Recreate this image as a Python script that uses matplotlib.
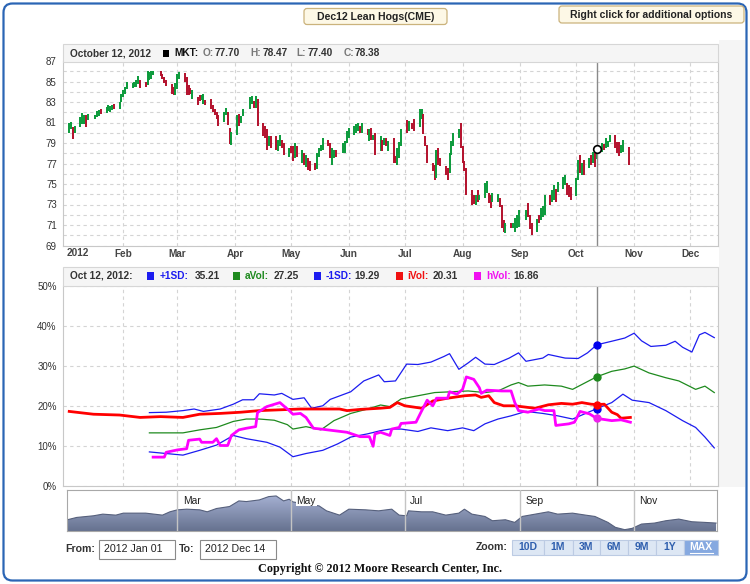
import datetime as dt
import numpy as np
import pandas as pd
import matplotlib
matplotlib.use('Agg')
import matplotlib.pyplot as plt
import matplotlib.dates as mdates
from matplotlib.patches import FancyBboxPatch, Rectangle, Polygon
from matplotlib.colors import LinearSegmentedColormap

plt.rcParams['font.family'] = ['Liberation Sans', 'DejaVu Sans']

W, H = 750, 584
JAN1 = mdates.date2num(dt.datetime(2012, 1, 1))

# ---------------- data ----------------
# daily bars, business days 2012-01-03 .. 2012-10-29 without exchange holidays
bar_holidays = ['2012-01-16', '2012-02-20', '2012-04-06', '2012-05-28', '2012-07-04', '2012-09-03']
bar_high = [
    80.93, 81.03, 80.54, 80.64, 81.52, 81.95, 81.69, 81.69, 81.85, 81.69, 82.08, 82.18, 82.27, 82.50, 82.67, 82.57, 82.73, 82.83, 83.00, 83.80,  # jan
    84.14, 84.46, 84.95, 84.90, 84.95, 85.10, 85.54, 85.10, 84.95, 86.00, 85.93, 86.00, 86.00, 86.00, 85.77, 85.44, 85.10, 84.80, 84.46, 84.90,  # feb
    85.77, 85.93, 85.87, 85.44, 84.63, 84.37, 84.14, 83.48, 83.65, 83.65, 83.80, 83.16, 83.25, 82.73, 82.34, 82.00, 81.69, 82.00, 82.45, 82.03, 80.50, 80.05,  # mar
    81.70, 81.80, 81.63, 82.36, 83.44, 83.60, 83.11, 83.60, 83.28, 80.97, 80.64, 80.32, 79.66, 79.66, 79.66, 79.33, 79.82, 79.33, 79.00, 78.51,  # apr
    78.67, 78.74, 79.00, 78.67, 78.34, 78.01, 77.85, 77.52, 77.20, 77.03, 78.01, 78.51, 78.84, 79.49, 79.33, 79.00, 78.51, 78.34, 78.34, 79.00, 79.16, 80.15,  # may
    80.48, 80.64, 80.81, 80.97, 80.64, 80.97, 80.32, 80.32, 80.48, 79.82, 79.99, 79.66, 79.33, 79.49, 79.49, 79.16, 79.50, 77.70, 78.50, 79.10, 80.40,  # jun
    81.24, 81.14, 80.97, 81.30, 82.35, 82.28, 81.79, 79.67, 78.85, 77.05, 76.89, 78.36, 78.52, 77.54, 76.73, 76.56, 78.03, 79.18, 79.99, 80.39, 80.91,  # jul
    78.69, 77.22, 76.56, 74.44, 73.95, 73.95, 74.44, 73.95, 75.09, 75.25, 74.11, 73.95, 74.11, 74.05, 73.62, 72.97, 71.50, 71.24, 71.24, 71.24, 71.66, 71.99, 72.48,  # aug
    72.50, 73.10, 71.97, 71.15, 71.63, 71.97, 72.62, 72.85, 73.92, 73.90, 74.40, 74.90, 74.56, 75.20, 75.70, 75.87, 75.05, 74.90, 74.70,  # sep
    75.54, 77.34, 77.83, 77.01, 77.34, 77.50, 77.83, 78.16, 77.99, 78.47, 78.97, 78.91, 79.46, 79.24, 79.79, 79.79, 79.14, 79.14, 78.81, 79.30, 78.65,  # oct
]
bar_low = [
    79.99, 80.38, 79.40, 79.99, 80.54, 80.87, 80.87, 80.54, 81.20, 81.30, 81.52, 81.62, 81.85, 81.95, 82.08, 82.00, 82.18, 82.34, 82.27, 83.00,
    83.48, 83.80, 84.30, 84.40, 84.46, 84.46, 84.80, 84.37, 84.46, 84.63, 85.10, 85.28, 85.60, 85.54, 85.28, 84.90, 84.56, 83.80, 83.70, 83.65,
    84.30, 85.28, 84.95, 83.70, 83.65, 83.80, 83.32, 82.67, 83.06, 83.16, 82.83, 82.67, 82.34, 82.00, 81.69, 81.36, 80.70, 81.03, 81.70, 80.80, 78.90, 78.84,
    79.82, 80.64, 80.97, 81.63, 82.29, 82.78, 82.45, 82.45, 80.64, 79.66, 79.49, 78.34, 78.67, 78.51, 78.34, 78.18, 78.67, 78.51, 77.85, 77.68,
    78.01, 77.29, 77.52, 77.68, 77.03, 76.86, 76.70, 76.37, 76.30, 76.37, 76.43, 77.68, 78.18, 78.34, 78.67, 77.52, 76.86, 77.52, 77.68, 78.01, 78.01, 79.00,
    79.49, 79.82, 79.99, 80.15, 79.99, 79.99, 79.82, 79.16, 79.33, 79.33, 77.85, 78.18, 78.18, 78.84, 78.67, 78.18, 77.05, 77.05, 76.90, 77.50, 78.70,
    79.99, 80.16, 80.32, 80.16, 80.58, 81.30, 79.83, 78.69, 77.05, 76.24, 75.42, 75.58, 76.89, 76.73, 75.91, 75.42, 76.07, 77.87, 78.69, 79.50, 78.52,
    77.05, 76.24, 73.95, 72.97, 73.07, 72.97, 73.29, 73.46, 73.62, 74.11, 73.13, 72.64, 73.29, 73.20, 72.80, 70.68, 70.35, 70.25, 70.68, 70.68, 70.35, 70.68, 70.84,
    71.52, 71.80, 70.60, 70.00, 70.33, 71.15, 71.46, 71.80, 71.95, 72.93, 73.25, 73.40, 73.25, 74.24, 74.56, 74.90, 73.90, 73.75, 73.40,
    73.81, 75.38, 76.03, 75.87, 75.87, 76.52, 76.85, 77.01, 76.69, 77.40, 78.16, 78.32, 78.48, 78.65, 79.14, 78.48, 77.99, 77.73, 77.99, 78.16, 76.85,
]
# G = closed up, R = closed down
bar_dir = ("GGRGGGGRGGGGRGGGGRGG" "GGGGGGGRRGGGGRRRRRRG" "GGRRRRGRRGGRRRRRRGGRRG"
           "GRGGGGRGRRRRGRRGGRRG" "RRGRGRGRRRGGGGRRGGRGGG" "GGGGRGRGRGRGRGRGRRGGG"
           "RGRRGGRRRRRGRRRRGGGGR" "RRRRRGRGGGRRGGRRRGRGGGG" "GRRRGRGGGRGGRGGGRRR"
           "GGRGRGRGRGGRGGGRRRGGR")

sel_date = dt.datetime(2012, 10, 12)
sel_ohlc = ['77.70', '78.47', '77.40', '78.38']

# volatility lines, x = days after Jan 1 2012, y = percent
ivol_day = [2, 15, 29, 40, 51, 63, 72, 83, 94, 104, 115, 126, 137, 147, 151, 158, 169, 174, 178, 182,
            191, 197, 205, 214, 220, 223, 227, 230, 235, 241, 248, 252, 259, 266, 272, 277, 282, 285, 289, 293,
            296, 298, 303]
ivol_val = [18.6, 17.9, 17.7, 17.1, 17.3, 17.1, 17.9, 18.1, 18.4, 18.8, 19.0, 19.2, 19.2, 19.2, 18.8, 19.1, 19.4, 19.6, 20.8, 20.0,
            19.4, 21.2, 21.9, 22.5, 22.7, 22.1, 22.5, 20.8, 20.0, 20.0, 19.6, 19.4, 20.25, 20.6, 20.4, 20.8, 20.4, 20.31, 20.4, 18.4,
            17.8, 16.9, 17.1]
up_day = [45, 54, 63, 69, 74, 83, 90, 95, 101, 104, 112, 116, 122, 128, 132, 138, 142, 153, 160, 168,
          171, 177, 183, 189, 196, 203, 206, 211, 216, 220, 225, 230, 238, 243, 247, 256, 259, 268, 275, 280,
          285, 293, 300, 305, 309, 314, 322, 327, 331, 336, 340, 343, 348]
up_val = [18.3, 18.4, 18.8, 19.2, 18.6, 19.2, 20.4, 21.5, 21.5, 23.0, 22.7, 23.1, 21.6, 22.0, 19.4, 20.0, 21.6, 23.5, 26.2, 27.7,
          26.0, 26.2, 30.4, 30.3, 30.9, 32.3, 33.0, 29.1, 30.7, 32.1, 30.4, 30.3, 31.9, 33.2, 31.1, 31.9, 32.8, 31.9, 31.8, 33.2,
          35.21, 36.1, 36.9, 38.1, 36.2, 34.8, 35.1, 36.1, 34.6, 33.4, 37.7, 38.3, 37.0]
avol_day = [45, 63, 72, 81, 90, 97, 104, 112, 119, 122, 129, 137, 144, 153, 162, 169, 174, 180, 189, 198,
            207, 216, 225, 232, 239, 243, 248, 257, 266, 272, 279, 285, 293, 300, 305, 313, 322, 329, 338, 343, 348]
avol_val = [13.25, 13.25, 14.0, 14.6, 16.1, 16.7, 16.7, 16.4, 15.3, 14.2, 14.8, 14.0, 16.3, 18.1, 19.2, 20.2, 19.8, 21.7, 22.5, 23.3,
            23.5, 23.7, 23.3, 23.7, 25.2, 25.8, 24.9, 25.2, 24.9, 24.1, 25.8, 27.25, 28.6, 29.2, 29.9, 28.2, 27.0, 26.2, 24.1, 24.9, 23.3]
dn_day = [45, 54, 63, 72, 81, 90, 97, 108, 115, 122, 129, 138, 146, 153, 162, 169, 174, 180, 189, 196,
          205, 213, 219, 225, 232, 239, 247, 256, 264, 272, 279, 285, 293, 299, 304, 313, 322, 331, 338, 343, 348]
dn_val = [8.5, 8.1, 7.7, 8.9, 10.2, 12.6, 11.8, 10.9, 9.7, 7.3, 8.1, 8.9, 10.5, 12.2, 13.0, 13.8, 14.2, 14.2, 13.6, 14.5,
          13.8, 14.5, 13.8, 15.5, 16.7, 17.5, 18.6, 18.1, 17.5, 16.7, 18.1, 19.29, 20.8, 22.9, 21.4, 20.8, 18.8, 16.3, 14.6, 12.2, 9.5]
hvol_day = [47, 53, 54, 60, 65, 66, 72, 73, 79, 81, 83, 87, 89, 93, 97, 102, 103, 108, 115, 120,
            122, 126, 129, 133, 137, 144, 151, 158, 163, 165, 166, 169, 174, 175, 179, 180, 188, 191, 194, 197,
            199, 205, 206, 210, 213, 215, 219, 222, 223, 226, 234, 239, 241, 243, 248, 254, 257, 262, 263, 270,
            273, 276, 281, 285, 293, 298, 303]
hvol_val = [7.2, 7.2, 8.4, 9.0, 9.3, 11.4, 11.7, 10.9, 10.9, 11.8, 10.1, 10.1, 12.6, 14.0, 14.4, 14.8, 18.3, 19.8, 20.8, 18.8,
            17.9, 18.1, 17.1, 14.4, 14.2, 13.8, 13.4, 12.3, 12.3, 9.9, 13.0, 13.4, 12.6, 14.2, 14.6, 15.6, 15.9, 18.7, 21.4, 20.0,
            21.9, 21.9, 23.5, 22.9, 24.1, 27.2, 26.6, 24.5, 23.1, 23.9, 23.7, 23.7, 20.8, 18.8, 18.4, 19.2, 18.8, 18.8, 15.1, 15.5,
            15.9, 18.6, 18.0, 16.86, 16.3, 16.5, 15.9]

legend_names = ['+1SD:', 'aVol:', '-1SD:', 'iVol:', 'hVol:']
legend_vals = [35.21, 27.25, 19.29, 20.31, 16.86]
legend_cols = ['#1c1cf0', '#1e8a1e', '#1c1cf0', '#f01010', '#f010f0']

# navigator strip (unitless level)
nav_day = [1, 6, 15, 20, 27, 31, 43, 52, 56, 60, 65, 72, 76, 81, 88, 93, 97, 104, 109, 113,
           117, 120, 122, 129, 136, 140, 147, 152, 161, 168, 175, 179, 183, 184, 191, 197, 204, 211, 214, 218,
           225, 229, 236, 241, 245, 252, 259, 264, 272, 279, 284, 291, 295, 300, 304, 309, 316, 322, 329, 336,
           343, 349]
nav_val = [38, 45, 50, 55, 52, 58, 58, 52, 62, 68, 70, 68, 62, 72, 78, 95, 93, 98, 108, 110,
           95, 100, 92, 85, 80, 65, 52, 70, 68, 65, 70, 52, 50, 65, 62, 62, 52, 58, 70, 55,
           48, 35, 38, 30, 48, 55, 62, 55, 58, 52, 48, 30, 15, 8, 12, 25, 28, 35, 40, 32,
           30, 28]

month_labels = ['2012', 'Feb', 'Mar', 'Apr', 'May', 'Jun', 'Jul', 'Aug', 'Sep', 'Oct', 'Nov', 'Dec']
nav_labels = ['Mar', 'May', 'Jul', 'Sep', 'Nov']
zoom_buttons = ['10D', '1M', '3M', '6M', '9M', '1Y', 'MAX']


def box(x0, y0, x1, y1):
    # pixel box (y down) -> figure fraction rect
    return [x0 / W, 1 - y1 / H, (x1 - x0) / W, (y1 - y0) / H]


fig = plt.figure(figsize=(W / 100, H / 100), dpi=100)
fig.patch.set_facecolor('white')

bg = fig.add_axes([0, 0, 1, 1], zorder=0)
bg.set_xlim(0, W)
bg.set_ylim(H, 0)
bg.axis('off')
bg.add_patch(Rectangle((719, 40), 26, 447, fc='#f5f5f5', ec='none'))

month_x = mdates.date2num(pd.date_range('2012-02-01', '2012-12-01', freq='MS').to_pydatetime())
sel_x = mdates.date2num(sel_date)

# ---------------- price chart ----------------
dates = pd.bdate_range('2012-01-03', '2012-10-29')
dates = dates[~dates.isin(pd.to_datetime(bar_holidays))]
bar_x = mdates.date2num(dates.to_pydatetime())
bar_cols = ['#0a9a3a' if c == 'G' else '#b3102c' for c in bar_dir]

ax = fig.add_axes(box(63, 61, 718, 245.5), zorder=1)
ax.vlines(bar_x, bar_low, bar_high, colors=bar_cols, lw=1.4)
ax.axvline(sel_x, color='#8a8a8a', lw=1)
ax.plot(sel_x, float(sel_ohlc[3]), 'o', ms=5.5, mfc='white', mec='black', mew=1.2, zorder=5)
ax.set_xlim(JAN1 - 1.34, JAN1 + 350)
ax.set_ylim(69, 87)
ax.set_yticks(range(69, 88, 2))
ax.set_yticks(range(70, 87, 2), minor=True)
ax.set_xticks(month_x)
ax.set_xticklabels(month_labels[1:], fontweight='bold')
ax.grid(True, which='both', color='#d4d4d4', ls=(0, (3, 3)), lw=0.8)
ax.tick_params(which='both', length=0)
ax.tick_params(axis='y', pad=4.5, labelsize=7, labelcolor='#333333')
ax.tick_params(axis='x', pad=2.5, labelsize=7.2, labelcolor='#444444')
for s in ax.spines.values():
    s.set_color('#c8c8c8')
    s.set_linewidth(0.8)
ax.spines['top'].set_visible(False)

# ---------------- volatility chart ----------------
av = fig.add_axes(box(63, 285.5, 718, 486), zorder=1)
vx = lambda d: JAN1 + np.asarray(d, dtype=float)
av.plot(vx(up_day), up_val, color=legend_cols[0], lw=0.9)
av.plot(vx(dn_day), dn_val, color=legend_cols[2], lw=0.9)
av.plot(vx(avol_day), avol_val, color=legend_cols[1], lw=0.9)
av.plot(vx(ivol_day), ivol_val, color='#ff0000', lw=2.0)
av.plot(vx(hvol_day), hvol_val, color='#ff00ff', lw=2.0)
av.axvline(sel_x, color='#8a8a8a', lw=1)
for v, c in zip(legend_vals, ['#0000ee', '#1e8a1e', '#0000ee', '#ff0000', '#ee22ee']):
    av.plot(sel_x, v, 'o', ms=5, color=c, zorder=5)
av.set_xlim(JAN1 - 1.34, JAN1 + 350)
av.set_ylim(0, 50)
av.set_yticks(range(0, 51, 10))
av.set_yticklabels([f'{v}%' for v in range(0, 51, 10)])
av.set_xticks(month_x)
av.set_xticklabels([])
av.grid(True, color='#d4d4d4', ls=(0, (3, 3)), lw=0.8)
av.tick_params(length=0)
av.tick_params(axis='y', pad=4.5, labelsize=7, labelcolor='#333333')
for s in av.spines.values():
    s.set_color('#c8c8c8')
    s.set_linewidth(0.8)
av.spines['top'].set_visible(False)

# ---------------- navigator ----------------
nv = fig.add_axes(box(67, 490, 717, 531), zorder=1)
nx = vx(nav_day)
x0, x1 = JAN1 + 0.8, JAN1 + 349.5
cmap = LinearSegmentedColormap.from_list('nav', ['#aeb9dc', '#66728f'])
grad = np.linspace(0, 1, 120).reshape(-1, 1)
im = nv.imshow(grad, extent=[x0, x1, 4, 128], origin='upper', aspect='auto', cmap=cmap, zorder=1)
verts = [(nx[0], 4)] + list(zip(nx, nav_val)) + [(nx[-1], 4)]
clip = Polygon(verts, closed=True, fc='none', ec='none')
nv.add_patch(clip)
im.set_clip_path(clip)
nv.plot(nx, nav_val, color='#56607c', lw=0.8, zorder=2)
for lbl in nav_labels:
    mx = mdates.date2num(dt.datetime.strptime('2012 ' + lbl, '%Y %b'))
    nv.axvline(mx, color='#c4c4c4', lw=1, zorder=3)
    nv.annotate(lbl, (mx, 1), xycoords=('data', 'axes fraction'), xytext=(4, -4),
                textcoords='offset points', ha='left', va='top', fontsize=7.4, color='#222222',
                bbox=dict(fc='white', ec='none', pad=0.5), zorder=4)
nv.set_xlim(x0, x1)
nv.set_ylim(4, 128)
nv.set_xticks([])
nv.set_yticks([])
for s in nv.spines.values():
    s.set_color('#a8a8a8')
    s.set_linewidth(0.8)

# ---------------- frame, headers, controls ----------------
fg = fig.add_axes([0, 0, 1, 1], zorder=5)
fg.set_xlim(0, W)
fg.set_ylim(H, 0)
fg.axis('off')

fg.add_patch(FancyBboxPatch((3.5, 3.5), 743, 577, boxstyle='round,pad=0,rounding_size=9',
                            fc='none', ec='#2b65b5', lw=1.6))

tip = dict(fc='#fdf8e6', ec='#cbb37c', lw=0.9)
fg.add_patch(FancyBboxPatch((304, 8.5), 143, 16, boxstyle='round,pad=0,rounding_size=3', **tip))
fg.text(375.5, 17, 'Dec12 Lean Hogs(CME)', ha='center', va='center', fontsize=7.6,
        fontweight='bold', color='#222222')
fg.add_patch(FancyBboxPatch((559, 6), 185, 17, boxstyle='round,pad=0,rounding_size=3', **tip))
fg.text(651, 14.7, 'Right click for additional options', ha='center', va='center', fontsize=7.5,
        fontweight='bold', color='#222222')

hs = 7.3  # header font size

# price header
fg.add_patch(Rectangle((63, 43.5), 655, 18, fc='#f5f5f5', ec='#d6d6d6', lw=0.8))
hy = 53
fg.text(69.5, hy, 'October 12, 2012', fontsize=hs, fontweight='bold', color='#333333', va='center')
fg.add_patch(Rectangle((162.5, 49.5), 6, 7, fc='black', ec='none'))
fg.text(174.5, hy, 'MKT:', fontsize=hs, fontweight='bold', color='#111111', va='center')
for lbl, val, lx, vx_ in zip(['O:', 'H:', 'L:', 'C:'], sel_ohlc,
                             [202.4, 250, 296.6, 343.5], [214.5, 262.2, 307.2, 355]):
    fg.text(lx, hy, lbl, fontsize=hs, fontweight='bold', color='#777777', va='center')
    fg.text(vx_, hy, val, fontsize=hs, fontweight='bold', color='#333333', va='center')
fg.text(67, 253, month_labels[0], ha='left', va='center', fontsize=7.2, fontweight='bold', color='#444444')

# volatility header
fg.add_patch(Rectangle((63, 267), 655, 18.5, fc='#f5f5f5', ec='#d6d6d6', lw=0.8))
vy = 276
fg.text(70, vy, 'Oct 12, 2012:', fontsize=hs, fontweight='bold', color='#333333', va='center')
for name, val, col, sx, lx, valx in zip(legend_names, legend_vals, legend_cols,
                                        [147, 233, 313.5, 396, 474],
                                        [159.5, 245, 325.5, 407, 486],
                                        [194.5, 273.5, 354.5, 432.5, 513.5]):
    fg.add_patch(Rectangle((sx, 272), 7, 8, fc=col, ec='none'))
    fg.text(lx, vy, name, fontsize=hs, fontweight='bold', color=col, va='center')
    fg.text(valx, vy, f'{val:.2f}', fontsize=hs, fontweight='bold', color='#333333', va='center')

# date range inputs
cy = 548.5
fg.text(65.5, cy, 'From:', fontsize=7.6, fontweight='bold', color='#333333', va='center')
fg.add_patch(Rectangle((99, 539.5), 75.5, 19, fc='white', ec='#8a8a8a', lw=0.8))
fg.text(104, cy, '2012 Jan 01', fontsize=7.7, color='#222222', va='center')
fg.text(178.5, cy, 'To:', fontsize=7.6, fontweight='bold', color='#333333', va='center')
fg.add_patch(Rectangle((200, 539.5), 76, 19, fc='white', ec='#8a8a8a', lw=0.8))
fg.text(205, cy, '2012 Dec 14', fontsize=7.7, color='#222222', va='center')

# zoom buttons
fg.text(476, 547.5, 'Zoom:', fontsize=7.6, fontweight='bold', color='#333333', va='center')
edges = [512, 543.5, 572.5, 600, 628, 656, 684, 718]
for i, b in enumerate(zoom_buttons):
    bx0, bx1 = edges[i], edges[i + 1]
    last = i == len(zoom_buttons) - 1
    fg.add_patch(Rectangle((bx0, 540), bx1 - bx0, 15, fc='#86a9e0' if last else '#dde7f4',
                           ec='#bccbe3', lw=0.8))
    fg.text((bx0 + bx1) / 2, 547.3, b, ha='center', va='center', fontsize=7.5, fontweight='bold',
            color='white' if last else '#2f5fae')
    if last:
        fg.plot([bx0 + 5.5, bx1 - 5.5], [552.6, 552.6], color='white', lw=0.8)

fg.text(380, 569, 'Copyright \u00a9 2012 Moore Research Center, Inc.', ha='center', va='center',
        family=['Liberation Serif', 'DejaVu Serif'], fontweight='bold', fontsize=8.7, color='#111111')

fig.savefig('out.png', dpi=100)
